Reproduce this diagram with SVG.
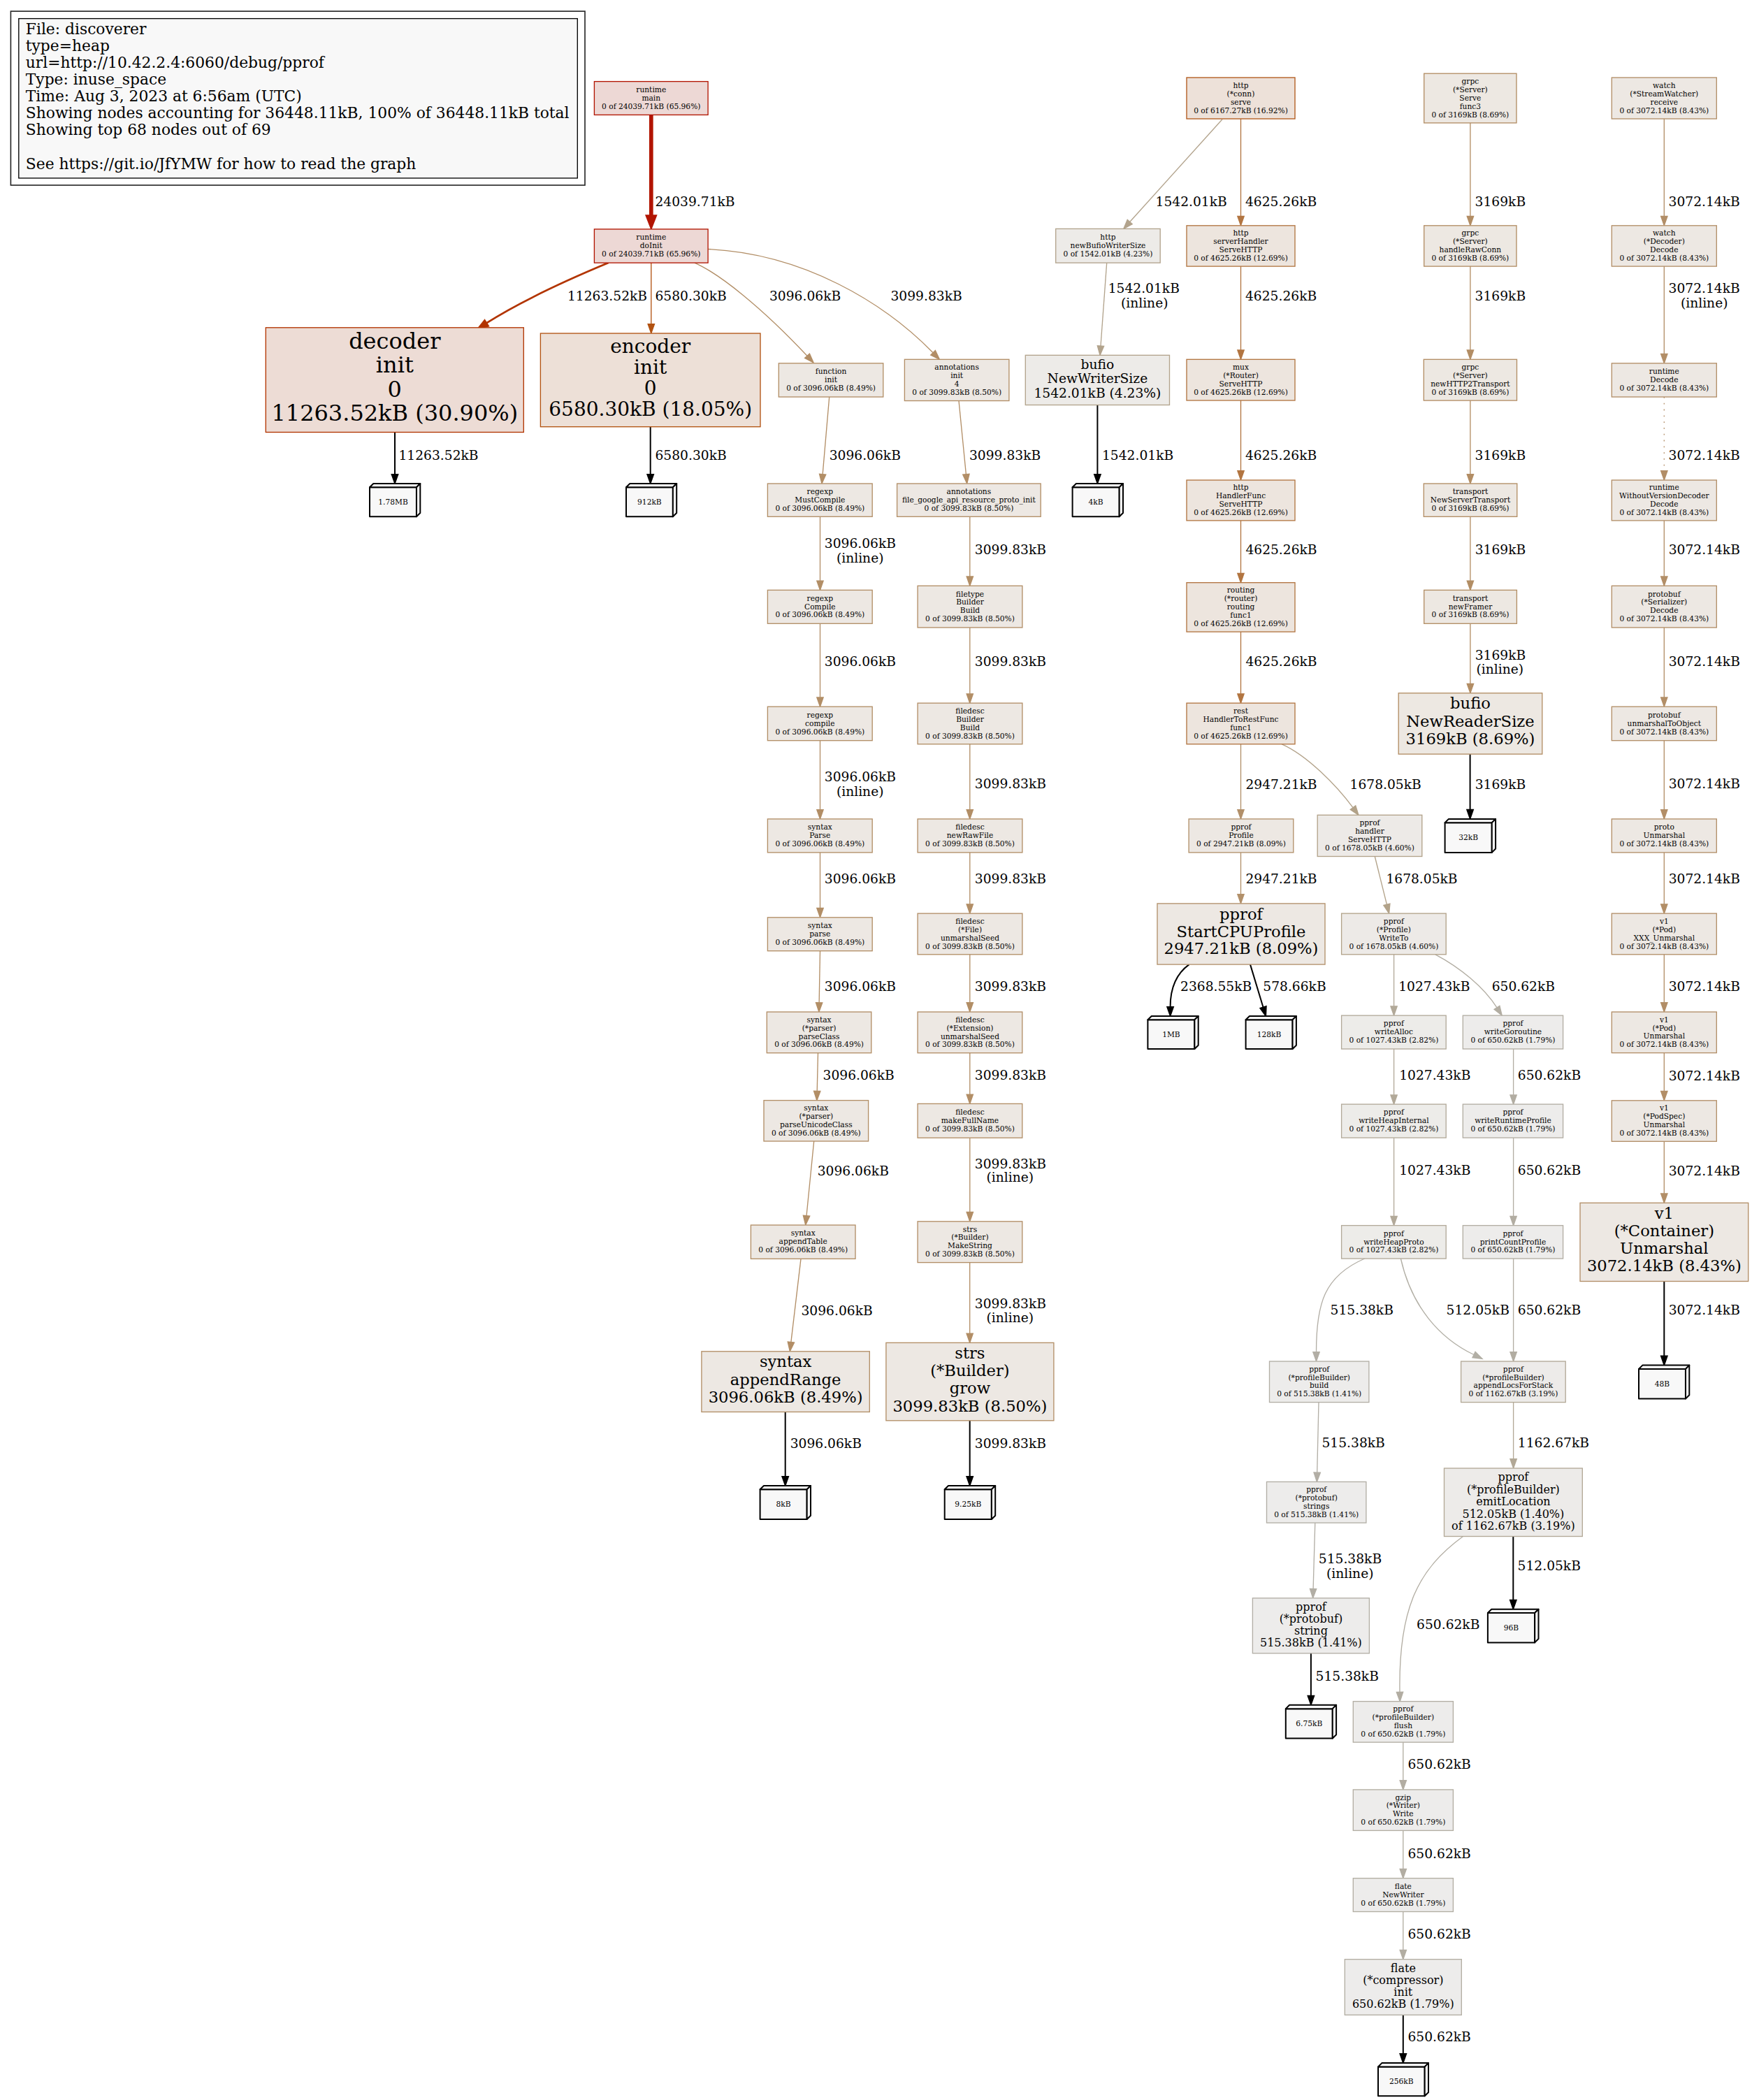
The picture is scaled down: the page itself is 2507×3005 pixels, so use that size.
<svg xmlns="http://www.w3.org/2000/svg" width="2507" height="3005" viewBox="0 0 2507 3005">
<style>
text{font-family:"DejaVu Serif","Liberation Serif",serif;fill:#000}
.n text{text-anchor:middle}
.n rect{stroke-width:1.33}
.s{font-size:10.67px}
.m{font-size:16px}
.t14{font-size:18.67px}
.t17{font-size:22.67px}
.t21{font-size:28px}
.t24{font-size:32px}
.el{font-size:18.67px}
.ei{font-size:18.67px;text-anchor:middle}
.lg{font-size:21.8px}
.e{fill:none;stroke-width:1.33}
.k{fill:none;stroke:#000;stroke-width:2}
.cube rect,.cube polygon{fill:#f8f8f8;stroke:#000;stroke-width:2;stroke-linejoin:round}
.cube text{font-size:10.67px;text-anchor:middle}
</style>
<defs>
<marker id="aT" viewBox="-3 -10 25 20" refX="0" refY="0" markerWidth="25" markerHeight="20" markerUnits="userSpaceOnUse" orient="auto"><path d="M0,-7L18,0L0,7Z" fill="#b21400" stroke="#b21400" stroke-width="2.5"/></marker>
<marker id="a1" viewBox="-2 -8 20 16" refX="0" refY="0" markerWidth="20" markerHeight="16" markerUnits="userSpaceOnUse" orient="auto"><path d="M0,-4.67L13.33,0L0,4.67Z" fill="#b23400" stroke="#b23400" stroke-width="2.67"/></marker>
<marker id="a2" viewBox="-2 -8 20 16" refX="0" refY="0" markerWidth="20" markerHeight="16" markerUnits="userSpaceOnUse" orient="auto"><path d="M0,-4.67L13.33,0L0,4.67Z" fill="#b25211" stroke="#b25211" stroke-width="1.33"/></marker>
<marker id="a3" viewBox="-2 -8 20 16" refX="0" refY="0" markerWidth="20" markerHeight="16" markerUnits="userSpaceOnUse" orient="auto"><path d="M0,-4.67L13.33,0L0,4.67Z" fill="#b28e66" stroke="#b28e66" stroke-width="1.33"/></marker>
<marker id="a4" viewBox="-2 -8 20 16" refX="0" refY="0" markerWidth="20" markerHeight="16" markerUnits="userSpaceOnUse" orient="auto"><path d="M0,-4.67L13.33,0L0,4.67Z" fill="#b2a38c" stroke="#b2a38c" stroke-width="1.33"/></marker>
<marker id="a5" viewBox="-2 -8 20 16" refX="0" refY="0" markerWidth="20" markerHeight="16" markerUnits="userSpaceOnUse" orient="auto"><path d="M0,-4.67L13.33,0L0,4.67Z" fill="#b27541" stroke="#b27541" stroke-width="1.33"/></marker>
<marker id="a6" viewBox="-2 -8 20 16" refX="0" refY="0" markerWidth="20" markerHeight="16" markerUnits="userSpaceOnUse" orient="auto"><path d="M0,-4.67L13.33,0L0,4.67Z" fill="#b28d64" stroke="#b28d64" stroke-width="1.33"/></marker>
<marker id="a7" viewBox="-2 -8 20 16" refX="0" refY="0" markerWidth="20" markerHeight="16" markerUnits="userSpaceOnUse" orient="auto"><path d="M0,-4.67L13.33,0L0,4.67Z" fill="#b28e67" stroke="#b28e67" stroke-width="1.33"/></marker>
<marker id="a8" viewBox="-2 -8 20 16" refX="0" refY="0" markerWidth="20" markerHeight="16" markerUnits="userSpaceOnUse" orient="auto"><path d="M0,-4.67L13.33,0L0,4.67Z" fill="#b2906a" stroke="#b2906a" stroke-width="1.33"/></marker>
<marker id="a9" viewBox="-2 -8 20 16" refX="0" refY="0" markerWidth="20" markerHeight="16" markerUnits="userSpaceOnUse" orient="auto"><path d="M0,-4.67L13.33,0L0,4.67Z" fill="#b2a289" stroke="#b2a289" stroke-width="1.33"/></marker>
<marker id="a10" viewBox="-2 -8 20 16" refX="0" refY="0" markerWidth="20" markerHeight="16" markerUnits="userSpaceOnUse" orient="auto"><path d="M0,-4.67L13.33,0L0,4.67Z" fill="#b2a999" stroke="#b2a999" stroke-width="1.33"/></marker>
<marker id="a11" viewBox="-2 -8 20 16" refX="0" refY="0" markerWidth="20" markerHeight="16" markerUnits="userSpaceOnUse" orient="auto"><path d="M0,-4.67L13.33,0L0,4.67Z" fill="#b2ada2" stroke="#b2ada2" stroke-width="1.33"/></marker>
<marker id="a12" viewBox="-2 -8 20 16" refX="0" refY="0" markerWidth="20" markerHeight="16" markerUnits="userSpaceOnUse" orient="auto"><path d="M0,-4.67L13.33,0L0,4.67Z" fill="#b2aea5" stroke="#b2aea5" stroke-width="1.33"/></marker>
<marker id="a13" viewBox="-2 -8 20 16" refX="0" refY="0" markerWidth="20" markerHeight="16" markerUnits="userSpaceOnUse" orient="auto"><path d="M0,-4.67L13.33,0L0,4.67Z" fill="#b2afa5" stroke="#b2afa5" stroke-width="1.33"/></marker>
<marker id="a14" viewBox="-2 -8 20 16" refX="0" refY="0" markerWidth="20" markerHeight="16" markerUnits="userSpaceOnUse" orient="auto"><path d="M0,-4.67L13.33,0L0,4.67Z" fill="#b2a896" stroke="#b2a896" stroke-width="1.33"/></marker>
<marker id="ak" viewBox="-2 -8 20 16" refX="0" refY="0" markerWidth="20" markerHeight="16" markerUnits="userSpaceOnUse" orient="auto"><path d="M0,-4.67L13.33,0L0,4.67Z" fill="#000" stroke="#000" stroke-width="1.5"/></marker>
</defs>
<rect width="2507" height="3005" fill="#fff"/>

<g id="legend">
<rect x="15.4" y="16.1" width="821.6" height="248.9" fill="none" stroke="#222" stroke-width="1.6"/>
<rect x="26.8" y="26.6" width="799.5" height="228.3" fill="#f8f8f8" stroke="#000" stroke-width="1.33"/>
<text class="lg"><tspan x="36.8" y="48.6">File: discoverer</tspan><tspan x="36.8" y="72.7">type=heap</tspan><tspan x="36.8" y="96.8">url=http://10.42.2.4:6060/debug/pprof</tspan><tspan x="36.8" y="120.9">Type: inuse_space</tspan><tspan x="36.8" y="145.0">Time: Aug 3, 2023 at 6:56am (UTC)</tspan><tspan x="36.8" y="169.2">Showing nodes accounting for 36448.11kB, 100% of 36448.11kB total</tspan><tspan x="36.8" y="193.3">Showing top 68 nodes out of 69</tspan><tspan x="36.8" y="241.5">See https://git.io/JfYMW for how to read the graph</tspan></text>
</g>

<g id="edges">
<path class="e" d="M931.8,164.4V308.5" stroke="#b21400" style="stroke-width:5.7" marker-end="url(#aT)"/>
<text class="el" x="937.5" y="294.8">24039.71kB</text>
<path class="e" d="M870.6,376.1C830,393 750,428 696,462.4" stroke="#b23400" style="stroke-width:2.67" marker-end="url(#a1)"/>
<text class="el" x="812" y="429.5">11263.52kB</text>
<path class="e" d="M931.8,376.1V463.7" stroke="#b25211" marker-end="url(#a2)"/>
<text class="el" x="937.5" y="429.5">6580.30kB</text>
<path class="e" d="M994,376.1C1030,392 1090,440 1155,509.2" stroke="#b28e66" marker-end="url(#a3)"/>
<text class="el" x="1101" y="429.5">3096.06kB</text>
<path class="e" d="M1013.1,356.5C1150,363 1265.3,433.2 1335.1,504.75" stroke="#b28e66" marker-end="url(#a3)"/>
<text class="el" x="1274.5" y="429.5">3099.83kB</text>
<path class="e" d="M1749,170.8L1616.7,317.5" stroke="#b2a38c" marker-end="url(#a4)"/>
<text class="el" x="1653.6" y="294.8">1542.01kB</text>
<path class="e" d="M1775.5,170V309.5" stroke="#b27541" marker-end="url(#a5)"/>
<text class="el" x="1782" y="294.8">4625.26kB</text>
<path class="e" d="M2103.9,175.9V309.5" stroke="#b28d64" marker-end="url(#a6)"/>
<text class="el" x="2110.6" y="294.8">3169kB</text>
<path class="e" d="M2381.3,170V309.5" stroke="#b28e67" marker-end="url(#a7)"/>
<text class="el" x="2387.6" y="294.8">3072.14kB</text>
<path class="e" d="M1583.7,376.1L1575,495" stroke="#b2a38c" marker-end="url(#a4)"/>
<text class="el" x="1585.7" y="419">1542.01kB</text><text class="ei" x="1637.7" y="440">(inline)</text>
<path class="e" d="M1775.5,381.1V501" stroke="#b27541" marker-end="url(#a5)"/>
<text class="el" x="1782" y="429.5">4625.26kB</text>
<path class="e" d="M2103.9,381.1V501" stroke="#b28d64" marker-end="url(#a6)"/>
<text class="el" x="2110.6" y="429.5">3169kB</text>
<path class="e" d="M2381.3,381.1V506.5" stroke="#b28e67" marker-end="url(#a7)"/>
<text class="el" x="2387.6" y="419">3072.14kB</text><text class="ei" x="2438.7" y="440">(inline)</text>
<path class="e" d="M1186.7,568L1177.15,678.7" stroke="#b28e66" marker-end="url(#a3)"/>
<text class="el" x="1186.7" y="657.6">3096.06kB</text>
<path class="e" d="M1372,573.5L1382.4,678.7" stroke="#b28e66" marker-end="url(#a3)"/>
<text class="el" x="1387" y="657.6">3099.83kB</text>
<path class="k" d="M1570.4,579.5V678.7" marker-end="url(#ak)"/>
<text class="el" x="1577" y="657.6">1542.01kB</text>
<path class="e" d="M1775.5,573V673.7" stroke="#b27541" marker-end="url(#a5)"/>
<text class="el" x="1782" y="657.6">4625.26kB</text>
<path class="e" d="M2103.9,573.1V678.7" stroke="#b28d64" marker-end="url(#a6)"/>
<text class="el" x="2110.6" y="657.6">3169kB</text>
<path class="e" d="M2381.3,568V673.7" stroke="#b28e67" stroke-dasharray="1.8,7" marker-end="url(#a7)"/>
<text class="el" x="2387.6" y="657.6">3072.14kB</text>
<path class="k" d="M565,618.5V678.7" marker-end="url(#ak)"/>
<text class="el" x="570.5" y="657.6">11263.52kB</text>
<path class="k" d="M930.7,610.7V678.7" marker-end="url(#ak)"/>
<text class="el" x="937.5" y="657.6">6580.30kB</text>
<path class="e" d="M1173.5,739.3V831.1" stroke="#b28e66" marker-end="url(#a3)"/>
<text class="el" x="1179.8" y="784.2">3096.06kB</text><text class="ei" x="1230.7" y="804.6">(inline)</text>
<path class="e" d="M1387.8,739.3V825" stroke="#b28e66" marker-end="url(#a3)"/>
<text class="el" x="1394.8" y="793.4">3099.83kB</text>
<path class="e" d="M1775.5,744.9V820.4" stroke="#b27541" marker-end="url(#a5)"/>
<text class="el" x="1782.4" y="793.4">4625.26kB</text>
<path class="e" d="M2103.9,739.3V831.1" stroke="#b28d64" marker-end="url(#a6)"/>
<text class="el" x="2110.7" y="793.4">3169kB</text>
<path class="e" d="M2381.3,744.9V825" stroke="#b28e67" marker-end="url(#a7)"/>
<text class="el" x="2387.7" y="793.4">3072.14kB</text>
<path class="e" d="M1173.5,892.3V997.9" stroke="#b28e66" marker-end="url(#a3)"/>
<text class="el" x="1179.8" y="952.6">3096.06kB</text>
<path class="e" d="M1387.8,898V992.8" stroke="#b28e66" marker-end="url(#a3)"/>
<text class="el" x="1394.8" y="952.6">3099.83kB</text>
<path class="e" d="M1775.5,904.1V992.8" stroke="#b27541" marker-end="url(#a5)"/>
<text class="el" x="1782.4" y="952.6">4625.26kB</text>
<path class="e" d="M2103.9,892.3V978.5" stroke="#b28d64" marker-end="url(#a6)"/>
<text class="el" x="2110.7" y="943.9">3169kB</text><text class="ei" x="2146.3" y="964.3">(inline)</text>
<path class="e" d="M2381.3,898V997.9" stroke="#b28e67" marker-end="url(#a7)"/>
<text class="el" x="2387.7" y="952.6">3072.14kB</text>
<path class="e" d="M1173.5,1059.7V1158.6" stroke="#b28e66" marker-end="url(#a3)"/>
<text class="el" x="1179.8" y="1118.4">3096.06kB</text><text class="ei" x="1230.7" y="1138.8">(inline)</text>
<path class="e" d="M1387.8,1064.8V1158.6" stroke="#b28e66" marker-end="url(#a3)"/>
<text class="el" x="1394.8" y="1127.6">3099.83kB</text>
<path class="e" d="M1775.5,1064.8V1158.6" stroke="#b2906a" marker-end="url(#a8)"/>
<text class="el" x="1782.4" y="1128.6">2947.21kB</text>
<path class="e" d="M1834.2,1064.8C1870.7,1081.1 1912.1,1123.5 1936,1155.6" stroke="#b2a289" marker-end="url(#a9)"/>
<text class="el" x="1931.6" y="1128.6">1678.05kB</text>
<path class="k" d="M2103.6,1079.1V1158.6" marker-end="url(#ak)"/>
<text class="el" x="2110.7" y="1128.6">3169kB</text>
<path class="e" d="M2381.3,1059.7V1158.6" stroke="#b28e67" marker-end="url(#a7)"/>
<text class="el" x="2387.7" y="1127.6">3072.14kB</text>
<path class="e" d="M1173.5,1219.9V1299.5" stroke="#b28e66" marker-end="url(#a3)"/>
<text class="el" x="1179.8" y="1263.8">3096.06kB</text>
<path class="e" d="M1387.8,1219.9V1293.8" stroke="#b28e66" marker-end="url(#a3)"/>
<text class="el" x="1394.8" y="1263.8">3099.83kB</text>
<path class="e" d="M1775.5,1219.9V1279.6" stroke="#b2906a" marker-end="url(#a8)"/>
<text class="el" x="1782.4" y="1263.8">2947.21kB</text>
<path class="e" d="M1967.3,1225.5L1984.4,1294.2" stroke="#b2a289" marker-end="url(#a9)"/>
<text class="el" x="1983.4" y="1263.8">1678.05kB</text>
<path class="e" d="M2381.3,1219.9V1293.8" stroke="#b28e67" marker-end="url(#a7)"/>
<text class="el" x="2387.7" y="1263.8">3072.14kB</text>
<path class="e" d="M1173.5,1360.7L1172.15,1434.7" stroke="#b28e66" marker-end="url(#a3)"/>
<text class="el" x="1179.8" y="1418.4">3096.06kB</text>
<path class="e" d="M1387.8,1365.8V1434.7" stroke="#b28e66" marker-end="url(#a3)"/>
<text class="el" x="1394.8" y="1418.4">3099.83kB</text>
<path class="k" d="M1701.6,1380.1C1685,1392 1674.6,1410 1674.6,1440.7" marker-end="url(#ak)"/>
<text class="el" x="1689.1" y="1418.4">2368.55kB</text>
<path class="k" d="M1789,1380.1L1807.5,1441.2" marker-end="url(#ak)"/>
<text class="el" x="1807.3" y="1418.4">578.66kB</text>
<path class="e" d="M1994.6,1365.8V1439.8" stroke="#b2a999" marker-end="url(#a10)"/>
<text class="el" x="2001.2" y="1418.4">1027.43kB</text>
<path class="e" d="M2053.9,1365.8C2089.3,1384.5 2123.1,1412.4 2142,1441.9" stroke="#b2ada2" marker-end="url(#a11)"/>
<text class="el" x="2134.7" y="1418.4">650.62kB</text>
<path class="e" d="M2381.3,1365.8V1434.7" stroke="#b28e67" marker-end="url(#a7)"/>
<text class="el" x="2387.7" y="1418.4">3072.14kB</text>
<path class="e" d="M1170.5,1506.7L1169.2,1561.3" stroke="#b28e66" marker-end="url(#a3)"/>
<text class="el" x="1177.6" y="1545.4">3096.06kB</text>
<path class="e" d="M1387.8,1506.7V1566.1" stroke="#b28e66" marker-end="url(#a3)"/>
<text class="el" x="1394.8" y="1545.4">3099.83kB</text>
<path class="e" d="M1994.6,1501V1566.8" stroke="#b2a999" marker-end="url(#a10)"/>
<text class="el" x="2002.2" y="1545.4">1027.43kB</text>
<path class="e" d="M2165.6,1501V1566.8" stroke="#b2ada2" marker-end="url(#a11)"/>
<text class="el" x="2171.8" y="1545.4">650.62kB</text>
<path class="e" d="M2381.3,1506.6V1561.5" stroke="#b28e67" marker-end="url(#a7)"/>
<text class="el" x="2387.7" y="1545.7">3072.14kB</text>
<path class="e" d="M1164.7,1633L1154.03,1739.7" stroke="#b28e66" marker-end="url(#a3)"/>
<text class="el" x="1169.7" y="1681.8">3096.06kB</text>
<path class="e" d="M1387.8,1628.2V1734.5" stroke="#b28e66" marker-end="url(#a3)"/>
<text class="el" x="1394.8" y="1672.2">3099.83kB</text><text class="ei" x="1445.3" y="1691.3">(inline)</text>
<path class="e" d="M1994.6,1628.1V1740.3" stroke="#b2a999" marker-end="url(#a10)"/>
<text class="el" x="2002.2" y="1681.1">1027.43kB</text>
<path class="e" d="M2165.6,1628.1V1740.3" stroke="#b2ada2" marker-end="url(#a11)"/>
<text class="el" x="2171.8" y="1681.1">650.62kB</text>
<path class="e" d="M2381.3,1633.3V1708" stroke="#b28e67" marker-end="url(#a7)"/>
<text class="el" x="2387.7" y="1681.5">3072.14kB</text>
<path class="e" d="M1146,1801.3L1131.87,1920.56" stroke="#b28e66" marker-end="url(#a3)"/>
<text class="el" x="1146.5" y="1881.7">3096.06kB</text>
<path class="e" d="M1387.7,1806.6V1908.1" stroke="#b28e66" marker-end="url(#a3)"/>
<text class="el" x="1394.8" y="1872">3099.83kB</text><text class="ei" x="1445.3" y="1892.2">(inline)</text>
<path class="e" d="M1952.7,1801C1895,1826 1883.5,1865 1883.5,1934.7" stroke="#b2aea5" marker-end="url(#a12)"/>
<text class="el" x="1903.6" y="1881.1">515.38kB</text>
<path class="e" d="M2004.4,1801C2020,1870 2060,1915 2109,1938.5" stroke="#b2afa5" marker-end="url(#a13)"/>
<text class="el" x="2069.6" y="1881.1">512.05kB</text>
<path class="e" d="M2165.6,1801V1934.7" stroke="#b2ada2" marker-end="url(#a11)"/>
<text class="el" x="2171.8" y="1881.1">650.62kB</text>
<path class="k" d="M2381.3,1833.5V1940.3" marker-end="url(#ak)"/>
<text class="el" x="2387.7" y="1881.3">3072.14kB</text>
<path class="e" d="M1887,2006.6L1884.7,2107.1" stroke="#b2aea5" marker-end="url(#a12)"/>
<text class="el" x="1891.5" y="2071.4">515.38kB</text>
<path class="e" d="M2165.6,2006.6V2087.7" stroke="#b2a896" marker-end="url(#a14)"/>
<text class="el" x="2171.8" y="2071.4">1162.67kB</text>
<path class="k" d="M1123.7,2020.4V2112.7" marker-end="url(#ak)"/>
<text class="el" x="1130.7" y="2071.6">3096.06kB</text>
<path class="k" d="M1387.7,2032.8V2112.7" marker-end="url(#ak)"/>
<text class="el" x="1394.8" y="2071.6">3099.83kB</text>
<path class="e" d="M1881.8,2179.1L1879.1,2273.5" stroke="#b2aea5" marker-end="url(#a12)"/>
<text class="el" x="1886.8" y="2237">515.38kB</text><text class="ei" x="1931.7" y="2257.5">(inline)</text>
<path class="k" d="M2165.3,2198.5V2289.4" marker-end="url(#ak)"/>
<text class="el" x="2171.6" y="2247.2">512.05kB</text>
<path class="e" d="M2093.5,2198.5C2030,2245 2001,2300 2003,2421.3" stroke="#b2ada2" marker-end="url(#a11)"/>
<text class="el" x="2027.1" y="2330.9">650.62kB</text>
<path class="k" d="M1875.9,2365.8V2426.5" marker-end="url(#ak)"/>
<text class="el" x="1882.6" y="2405.4">515.38kB</text>
<path class="e" d="M2007.8,2493.1V2547.6" stroke="#b2ada2" marker-end="url(#a11)"/>
<text class="el" x="2014.5" y="2531.1">650.62kB</text>
<path class="e" d="M2007.8,2619.4V2674.4" stroke="#b2ada2" marker-end="url(#a11)"/>
<text class="el" x="2014.5" y="2658.5">650.62kB</text>
<path class="e" d="M2007.8,2735.5V2790.4" stroke="#b2ada2" marker-end="url(#a11)"/>
<text class="el" x="2014.5" y="2774">650.62kB</text>
<path class="k" d="M2007.8,2883.3V2938.8" marker-end="url(#ak)"/>
<text class="el" x="2014.5" y="2921.3">650.62kB</text>
</g>

<g id="nodes">
<g id="n-runtime-main" class="n"><rect x="850.4" y="116.6" width="162.7" height="47.8" fill="#edd8d5" stroke="#b21400"/><text class="s"><tspan x="931.75" y="131.8">runtime</tspan><tspan x="931.75" y="143.7">main</tspan><tspan x="931.75" y="155.6">0 of 24039.71kB (65.96%)</tspan></text></g>
<g id="n-runtime-doInit" class="n"><rect x="850.4" y="327.9" width="162.7" height="48.2" fill="#edd8d5" stroke="#b21400"/><text class="s"><tspan x="931.75" y="343.3">runtime</tspan><tspan x="931.75" y="355.2">doInit</tspan><tspan x="931.75" y="367.1">0 of 24039.71kB (65.96%)</tspan></text></g>
<g id="n-decoder-init" class="n"><rect x="380.3" y="468.8" width="369" height="149.7" fill="#eddcd5" stroke="#b23400"/><text class="t24"><tspan x="564.8" y="498.6">decoder</tspan><tspan x="564.8" y="533.1">init</tspan><tspan x="564.8" y="567.6">0</tspan><tspan x="564.8" y="602">11263.52kB (30.90%)</tspan></text></g>
<g id="n-encoder-init" class="n"><rect x="773.4" y="477" width="314.6" height="133.7" fill="#ede0d7" stroke="#b25211"/><text class="t21"><tspan x="930.7" y="504.5">encoder</tspan><tspan x="930.7" y="534.8">init</tspan><tspan x="930.7" y="565.1">0</tspan><tspan x="930.7" y="595.4">6580.30kB (18.05%)</tspan></text></g>
<g id="n-function-init" class="n"><rect x="1114.3" y="519.8" width="149.5" height="48.2" fill="#ede8e3" stroke="#b28e66"/><text class="s"><tspan x="1189.05" y="535.2">function</tspan><tspan x="1189.05" y="547.1">init</tspan><tspan x="1189.05" y="559">0 of 3096.06kB (8.49%)</tspan></text></g>
<g id="n-annotations-init" class="n"><rect x="1294.4" y="514.3" width="149.5" height="59.2" fill="#ede8e3" stroke="#b28e66"/><text class="s"><tspan x="1369.15" y="529.25">annotations</tspan><tspan x="1369.15" y="541.15">init</tspan><tspan x="1369.15" y="553.05">4</tspan><tspan x="1369.15" y="564.95">0 of 3099.83kB (8.50%)</tspan></text></g>
<g id="n-http-conn-serve" class="n"><rect x="1698" y="111" width="155" height="59" fill="#ede1d9" stroke="#b2591b"/><text class="s"><tspan x="1775.5" y="125.85">http</tspan><tspan x="1775.5" y="137.75">(*conn)</tspan><tspan x="1775.5" y="149.65">serve</tspan><tspan x="1775.5" y="161.55">0 of 6167.27kB (16.92%)</tspan></text></g>
<g id="n-http-newBufioWriterSize" class="n"><rect x="1510.7" y="327.4" width="149.5" height="48.7" fill="#edebe8" stroke="#b2a38c"/><text class="s"><tspan x="1585.45" y="343.05">http</tspan><tspan x="1585.45" y="354.95">newBufioWriterSize</tspan><tspan x="1585.45" y="366.85">0 of 1542.01kB (4.23%)</tspan></text></g>
<g id="n-http-serverHandler" class="n"><rect x="1698" y="322.8" width="155" height="58.3" fill="#ede5de" stroke="#b27541"/><text class="s"><tspan x="1775.5" y="337.3">http</tspan><tspan x="1775.5" y="349.2">serverHandler</tspan><tspan x="1775.5" y="361.1">ServeHTTP</tspan><tspan x="1775.5" y="373">0 of 4625.26kB (12.69%)</tspan></text></g>
<g id="n-bufio-NewWriterSize" class="n"><rect x="1467.3" y="508.3" width="206.2" height="71.2" fill="#edebe8" stroke="#b2a38c"/><text class="t14"><tspan x="1570.4" y="528.3">bufio</tspan><tspan x="1570.4" y="548.4">NewWriterSize</tspan><tspan x="1570.4" y="568.5">1542.01kB (4.23%)</tspan></text></g>
<g id="n-mux-ServeHTTP" class="n"><rect x="1698" y="514.3" width="155" height="58.7" fill="#ede5de" stroke="#b27541"/><text class="s"><tspan x="1775.5" y="529">mux</tspan><tspan x="1775.5" y="540.9">(*Router)</tspan><tspan x="1775.5" y="552.8">ServeHTTP</tspan><tspan x="1775.5" y="564.7">0 of 4625.26kB (12.69%)</tspan></text></g>
<g id="n-grpc-Serve-func3" class="n"><rect x="2037.7" y="105.2" width="132.3" height="70.7" fill="#ede8e2" stroke="#b28d64"/><text class="s"><tspan x="2103.85" y="119.95">grpc</tspan><tspan x="2103.85" y="131.85">(*Server)</tspan><tspan x="2103.85" y="143.75">Serve</tspan><tspan x="2103.85" y="155.65">func3</tspan><tspan x="2103.85" y="167.55">0 of 3169kB (8.69%)</tspan></text></g>
<g id="n-grpc-handleRawConn" class="n"><rect x="2037.7" y="322.8" width="132.3" height="58.3" fill="#ede8e2" stroke="#b28d64"/><text class="s"><tspan x="2103.85" y="337.3">grpc</tspan><tspan x="2103.85" y="349.2">(*Server)</tspan><tspan x="2103.85" y="361.1">handleRawConn</tspan><tspan x="2103.85" y="373">0 of 3169kB (8.69%)</tspan></text></g>
<g id="n-grpc-newHTTP2Transport" class="n"><rect x="2037.3" y="514.3" width="133.2" height="58.8" fill="#ede8e2" stroke="#b28d64"/><text class="s"><tspan x="2103.9" y="529.05">grpc</tspan><tspan x="2103.9" y="540.95">(*Server)</tspan><tspan x="2103.9" y="552.85">newHTTP2Transport</tspan><tspan x="2103.9" y="564.75">0 of 3169kB (8.69%)</tspan></text></g>
<g id="n-transport-NewServerTransport" class="n"><rect x="2037.3" y="692" width="133.5" height="47.3" fill="#ede8e2" stroke="#b28d64"/><text class="s"><tspan x="2104" y="706.95">transport</tspan><tspan x="2104" y="718.85">NewServerTransport</tspan><tspan x="2104" y="730.75">0 of 3169kB (8.69%)</tspan></text></g>
<g id="n-watch-receive" class="n"><rect x="2306.3" y="111" width="150" height="59" fill="#ede8e3" stroke="#b28e67"/><text class="s"><tspan x="2381.3" y="125.85">watch</tspan><tspan x="2381.3" y="137.75">(*StreamWatcher)</tspan><tspan x="2381.3" y="149.65">receive</tspan><tspan x="2381.3" y="161.55">0 of 3072.14kB (8.43%)</tspan></text></g>
<g id="n-watch-Decode" class="n"><rect x="2306.3" y="322.8" width="150" height="58.3" fill="#ede8e3" stroke="#b28e67"/><text class="s"><tspan x="2381.3" y="337.3">watch</tspan><tspan x="2381.3" y="349.2">(*Decoder)</tspan><tspan x="2381.3" y="361.1">Decode</tspan><tspan x="2381.3" y="373">0 of 3072.14kB (8.43%)</tspan></text></g>
<g id="n-runtime-Decode" class="n"><rect x="2306.3" y="519.8" width="150" height="48.2" fill="#ede8e3" stroke="#b28e67"/><text class="s"><tspan x="2381.3" y="535.2">runtime</tspan><tspan x="2381.3" y="547.1">Decode</tspan><tspan x="2381.3" y="559">0 of 3072.14kB (8.43%)</tspan></text></g>
<g id="n-runtime-WithoutVersionDecoder" class="n"><rect x="2306.3" y="687" width="150" height="57.9" fill="#ede8e3" stroke="#b28e67"/><text class="s"><tspan x="2381.3" y="701.3">runtime</tspan><tspan x="2381.3" y="713.2">WithoutVersionDecoder</tspan><tspan x="2381.3" y="725.1">Decode</tspan><tspan x="2381.3" y="737">0 of 3072.14kB (8.43%)</tspan></text></g>
<g id="n-regexp-MustCompile" class="n"><rect x="1098.4" y="692" width="149.8" height="47.3" fill="#ede8e3" stroke="#b28e66"/><text class="s"><tspan x="1173.3" y="706.95">regexp</tspan><tspan x="1173.3" y="718.85">MustCompile</tspan><tspan x="1173.3" y="730.75">0 of 3096.06kB (8.49%)</tspan></text></g>
<g id="n-annotations-file" class="n"><rect x="1283.6" y="692" width="205.6" height="47.3" fill="#ede8e3" stroke="#b28e66"/><text class="s"><tspan x="1386.4" y="706.95">annotations</tspan><tspan x="1386.4" y="718.85">file_google_api_resource_proto_init</tspan><tspan x="1386.4" y="730.75">0 of 3099.83kB (8.50%)</tspan></text></g>
<g id="n-http-HandlerFunc" class="n"><rect x="1698" y="687" width="155" height="57.9" fill="#ede5de" stroke="#b27541"/><text class="s"><tspan x="1775.5" y="701.3">http</tspan><tspan x="1775.5" y="713.2">HandlerFunc</tspan><tspan x="1775.5" y="725.1">ServeHTTP</tspan><tspan x="1775.5" y="737">0 of 4625.26kB (12.69%)</tspan></text></g>
<g id="n-regexp-Compile" class="n"><rect x="1098.4" y="844.4" width="149.8" height="47.9" fill="#ede8e3" stroke="#b28e66"/><text class="s"><tspan x="1173.3" y="859.65">regexp</tspan><tspan x="1173.3" y="871.55">Compile</tspan><tspan x="1173.3" y="883.45">0 of 3096.06kB (8.49%)</tspan></text></g>
<g id="n-filetype-Build" class="n"><rect x="1313.1" y="838.3" width="149.8" height="59.7" fill="#ede8e3" stroke="#b28e66"/><text class="s"><tspan x="1388" y="853.5">filetype</tspan><tspan x="1388" y="865.4">Builder</tspan><tspan x="1388" y="877.3">Build</tspan><tspan x="1388" y="889.2">0 of 3099.83kB (8.50%)</tspan></text></g>
<g id="n-routing-func1" class="n"><rect x="1698" y="833.7" width="155" height="70.4" fill="#ede5de" stroke="#b27541"/><text class="s"><tspan x="1775.5" y="848.3">routing</tspan><tspan x="1775.5" y="860.2">(*router)</tspan><tspan x="1775.5" y="872.1">routing</tspan><tspan x="1775.5" y="884">func1</tspan><tspan x="1775.5" y="895.9">0 of 4625.26kB (12.69%)</tspan></text></g>
<g id="n-transport-newFramer" class="n"><rect x="2037.7" y="844.4" width="132.7" height="47.9" fill="#ede8e2" stroke="#b28d64"/><text class="s"><tspan x="2104" y="859.65">transport</tspan><tspan x="2104" y="871.55">newFramer</tspan><tspan x="2104" y="883.45">0 of 3169kB (8.69%)</tspan></text></g>
<g id="n-protobuf-Serializer-Decode" class="n"><rect x="2306.3" y="838.3" width="150" height="59.7" fill="#ede8e3" stroke="#b28e67"/><text class="s"><tspan x="2381.3" y="853.5">protobuf</tspan><tspan x="2381.3" y="865.4">(*Serializer)</tspan><tspan x="2381.3" y="877.3">Decode</tspan><tspan x="2381.3" y="889.2">0 of 3072.14kB (8.43%)</tspan></text></g>
<g id="n-regexp-compile" class="n"><rect x="1098.4" y="1011.2" width="149.8" height="48.5" fill="#ede8e3" stroke="#b28e66"/><text class="s"><tspan x="1173.3" y="1026.75">regexp</tspan><tspan x="1173.3" y="1038.65">compile</tspan><tspan x="1173.3" y="1050.55">0 of 3096.06kB (8.49%)</tspan></text></g>
<g id="n-filedesc-Build" class="n"><rect x="1313.1" y="1006.1" width="149.8" height="58.7" fill="#ede8e3" stroke="#b28e66"/><text class="s"><tspan x="1388" y="1020.8">filedesc</tspan><tspan x="1388" y="1032.7">Builder</tspan><tspan x="1388" y="1044.6">Build</tspan><tspan x="1388" y="1056.5">0 of 3099.83kB (8.50%)</tspan></text></g>
<g id="n-rest-HandlerToRestFunc" class="n"><rect x="1698" y="1006.1" width="155" height="58.7" fill="#ede5de" stroke="#b27541"/><text class="s"><tspan x="1775.5" y="1020.8">rest</tspan><tspan x="1775.5" y="1032.7">HandlerToRestFunc</tspan><tspan x="1775.5" y="1044.6">func1</tspan><tspan x="1775.5" y="1056.5">0 of 4625.26kB (12.69%)</tspan></text></g>
<g id="n-bufio-NewReaderSize" class="n"><rect x="2001.2" y="991.8" width="205.6" height="87.3" fill="#ede8e2" stroke="#b28d64"/><text class="t17"><tspan x="2104" y="1014">bufio</tspan><tspan x="2104" y="1039.5">NewReaderSize</tspan><tspan x="2104" y="1065">3169kB (8.69%)</tspan></text></g>
<g id="n-protobuf-unmarshalToObject" class="n"><rect x="2306.3" y="1011.2" width="150" height="48.5" fill="#ede8e3" stroke="#b28e67"/><text class="s"><tspan x="2381.3" y="1026.75">protobuf</tspan><tspan x="2381.3" y="1038.65">unmarshalToObject</tspan><tspan x="2381.3" y="1050.55">0 of 3072.14kB (8.43%)</tspan></text></g>
<g id="n-syntax-Parse" class="n"><rect x="1098.4" y="1171.9" width="149.8" height="48" fill="#ede8e3" stroke="#b28e66"/><text class="s"><tspan x="1173.3" y="1187.2">syntax</tspan><tspan x="1173.3" y="1199.1">Parse</tspan><tspan x="1173.3" y="1211">0 of 3096.06kB (8.49%)</tspan></text></g>
<g id="n-filedesc-newRawFile" class="n"><rect x="1313.1" y="1171.9" width="149.8" height="48" fill="#ede8e3" stroke="#b28e66"/><text class="s"><tspan x="1388" y="1187.2">filedesc</tspan><tspan x="1388" y="1199.1">newRawFile</tspan><tspan x="1388" y="1211">0 of 3099.83kB (8.50%)</tspan></text></g>
<g id="n-pprof-Profile" class="n"><rect x="1701.1" y="1171.9" width="149.7" height="48" fill="#ede8e3" stroke="#b2906a"/><text class="s"><tspan x="1775.95" y="1187.2">pprof</tspan><tspan x="1775.95" y="1199.1">Profile</tspan><tspan x="1775.95" y="1211">0 of 2947.21kB (8.09%)</tspan></text></g>
<g id="n-pprof-handler" class="n"><rect x="1885.2" y="1166.3" width="149.6" height="59.2" fill="#edeae7" stroke="#b2a289"/><text class="s"><tspan x="1960" y="1181.25">pprof</tspan><tspan x="1960" y="1193.15">handler</tspan><tspan x="1960" y="1205.05">ServeHTTP</tspan><tspan x="1960" y="1216.95">0 of 1678.05kB (4.60%)</tspan></text></g>
<g id="n-proto-Unmarshal" class="n"><rect x="2306.3" y="1171.9" width="150" height="48" fill="#ede8e3" stroke="#b28e67"/><text class="s"><tspan x="2381.3" y="1187.2">proto</tspan><tspan x="2381.3" y="1199.1">Unmarshal</tspan><tspan x="2381.3" y="1211">0 of 3072.14kB (8.43%)</tspan></text></g>
<g id="n-syntax-parse" class="n"><rect x="1098.4" y="1312.8" width="149.8" height="47.9" fill="#ede8e3" stroke="#b28e66"/><text class="s"><tspan x="1173.3" y="1328.05">syntax</tspan><tspan x="1173.3" y="1339.95">parse</tspan><tspan x="1173.3" y="1351.85">0 of 3096.06kB (8.49%)</tspan></text></g>
<g id="n-filedesc-File-unmarshalSeed" class="n"><rect x="1313.1" y="1307.1" width="149.8" height="58.7" fill="#ede8e3" stroke="#b28e66"/><text class="s"><tspan x="1388" y="1321.8">filedesc</tspan><tspan x="1388" y="1333.7">(*File)</tspan><tspan x="1388" y="1345.6">unmarshalSeed</tspan><tspan x="1388" y="1357.5">0 of 3099.83kB (8.50%)</tspan></text></g>
<g id="n-pprof-StartCPUProfile" class="n"><rect x="1656" y="1292.9" width="240" height="87.2" fill="#ede8e3" stroke="#b2906a"/><text class="t17"><tspan x="1776" y="1315.5">pprof</tspan><tspan x="1776" y="1340.5">StartCPUProfile</tspan><tspan x="1776" y="1365">2947.21kB (8.09%)</tspan></text></g>
<g id="n-pprof-WriteTo" class="n"><rect x="1919.6" y="1307.1" width="149.6" height="58.7" fill="#edeae7" stroke="#b2a289"/><text class="s"><tspan x="1994.4" y="1321.8">pprof</tspan><tspan x="1994.4" y="1333.7">(*Profile)</tspan><tspan x="1994.4" y="1345.6">WriteTo</tspan><tspan x="1994.4" y="1357.5">0 of 1678.05kB (4.60%)</tspan></text></g>
<g id="n-v1-Pod-XXX_Unmarshal" class="n"><rect x="2306.3" y="1307.1" width="150" height="58.7" fill="#ede8e3" stroke="#b28e67"/><text class="s"><tspan x="2381.3" y="1321.8">v1</tspan><tspan x="2381.3" y="1333.7">(*Pod)</tspan><tspan x="2381.3" y="1345.6">XXX_Unmarshal</tspan><tspan x="2381.3" y="1357.5">0 of 3072.14kB (8.43%)</tspan></text></g>
<g id="n-syntax-parseClass" class="n"><rect x="1097.3" y="1448" width="149.5" height="58.7" fill="#ede8e3" stroke="#b28e66"/><text class="s"><tspan x="1172.05" y="1462.7">syntax</tspan><tspan x="1172.05" y="1474.6">(*parser)</tspan><tspan x="1172.05" y="1486.5">parseClass</tspan><tspan x="1172.05" y="1498.4">0 of 3096.06kB (8.49%)</tspan></text></g>
<g id="n-filedesc-Extension-unmarshalSeed" class="n"><rect x="1313.1" y="1448" width="149.7" height="58.7" fill="#ede8e3" stroke="#b28e66"/><text class="s"><tspan x="1387.95" y="1462.7">filedesc</tspan><tspan x="1387.95" y="1474.6">(*Extension)</tspan><tspan x="1387.95" y="1486.5">unmarshalSeed</tspan><tspan x="1387.95" y="1498.4">0 of 3099.83kB (8.50%)</tspan></text></g>
<g id="n-pprof-writeAlloc" class="n"><rect x="1919.6" y="1453.1" width="149.6" height="47.9" fill="#edece9" stroke="#b2a999"/><text class="s"><tspan x="1994.4" y="1468.35">pprof</tspan><tspan x="1994.4" y="1480.25">writeAlloc</tspan><tspan x="1994.4" y="1492.15">0 of 1027.43kB (2.82%)</tspan></text></g>
<g id="n-pprof-writeGoroutine" class="n"><rect x="2093.3" y="1453.1" width="143.3" height="47.9" fill="#edeceb" stroke="#b2ada2"/><text class="s"><tspan x="2164.95" y="1468.35">pprof</tspan><tspan x="2164.95" y="1480.25">writeGoroutine</tspan><tspan x="2164.95" y="1492.15">0 of 650.62kB (1.79%)</tspan></text></g>
<g id="n-v1-Pod-Unmarshal" class="n"><rect x="2306.3" y="1448" width="150" height="58.6" fill="#ede8e3" stroke="#b28e67"/><text class="s"><tspan x="2381.3" y="1462.65">v1</tspan><tspan x="2381.3" y="1474.55">(*Pod)</tspan><tspan x="2381.3" y="1486.45">Unmarshal</tspan><tspan x="2381.3" y="1498.35">0 of 3072.14kB (8.43%)</tspan></text></g>
<g id="n-syntax-parseUnicodeClass" class="n"><rect x="1093" y="1574.6" width="149.6" height="58.4" fill="#ede8e3" stroke="#b28e66"/><text class="s"><tspan x="1167.8" y="1589.15">syntax</tspan><tspan x="1167.8" y="1601.05">(*parser)</tspan><tspan x="1167.8" y="1612.95">parseUnicodeClass</tspan><tspan x="1167.8" y="1624.85">0 of 3096.06kB (8.49%)</tspan></text></g>
<g id="n-filedesc-makeFullName" class="n"><rect x="1313.1" y="1579.4" width="149.7" height="48.8" fill="#ede8e3" stroke="#b28e66"/><text class="s"><tspan x="1387.95" y="1595.1">filedesc</tspan><tspan x="1387.95" y="1607">makeFullName</tspan><tspan x="1387.95" y="1618.9">0 of 3099.83kB (8.50%)</tspan></text></g>
<g id="n-pprof-writeHeapInternal" class="n"><rect x="1919.6" y="1580.1" width="149.6" height="48" fill="#edece9" stroke="#b2a999"/><text class="s"><tspan x="1994.4" y="1595.4">pprof</tspan><tspan x="1994.4" y="1607.3">writeHeapInternal</tspan><tspan x="1994.4" y="1619.2">0 of 1027.43kB (2.82%)</tspan></text></g>
<g id="n-pprof-writeRuntimeProfile" class="n"><rect x="2093.3" y="1580.1" width="143.3" height="48" fill="#edeceb" stroke="#b2ada2"/><text class="s"><tspan x="2164.95" y="1595.4">pprof</tspan><tspan x="2164.95" y="1607.3">writeRuntimeProfile</tspan><tspan x="2164.95" y="1619.2">0 of 650.62kB (1.79%)</tspan></text></g>
<g id="n-v1-PodSpec-Unmarshal" class="n"><rect x="2306.3" y="1574.8" width="150" height="58.5" fill="#ede8e3" stroke="#b28e67"/><text class="s"><tspan x="2381.3" y="1589.4">v1</tspan><tspan x="2381.3" y="1601.3">(*PodSpec)</tspan><tspan x="2381.3" y="1613.2">Unmarshal</tspan><tspan x="2381.3" y="1625.1">0 of 3072.14kB (8.43%)</tspan></text></g>
<g id="n-syntax-appendTable" class="n"><rect x="1074.4" y="1753" width="149.6" height="48.3" fill="#ede8e3" stroke="#b28e66"/><text class="s"><tspan x="1149.2" y="1768.45">syntax</tspan><tspan x="1149.2" y="1780.35">appendTable</tspan><tspan x="1149.2" y="1792.25">0 of 3096.06kB (8.49%)</tspan></text></g>
<g id="n-strs-MakeString" class="n"><rect x="1313.1" y="1747.8" width="149.7" height="58.8" fill="#ede8e3" stroke="#b28e66"/><text class="s"><tspan x="1387.95" y="1762.55">strs</tspan><tspan x="1387.95" y="1774.45">(*Builder)</tspan><tspan x="1387.95" y="1786.35">MakeString</tspan><tspan x="1387.95" y="1798.25">0 of 3099.83kB (8.50%)</tspan></text></g>
<g id="n-pprof-writeHeapProto" class="n"><rect x="1919.6" y="1753.6" width="149.6" height="47.4" fill="#edece9" stroke="#b2a999"/><text class="s"><tspan x="1994.4" y="1768.6">pprof</tspan><tspan x="1994.4" y="1780.5">writeHeapProto</tspan><tspan x="1994.4" y="1792.4">0 of 1027.43kB (2.82%)</tspan></text></g>
<g id="n-pprof-printCountProfile" class="n"><rect x="2093.3" y="1753.6" width="143.3" height="47.4" fill="#edeceb" stroke="#b2ada2"/><text class="s"><tspan x="2164.95" y="1768.6">pprof</tspan><tspan x="2164.95" y="1780.5">printCountProfile</tspan><tspan x="2164.95" y="1792.4">0 of 650.62kB (1.79%)</tspan></text></g>
<g id="n-v1-Container-Unmarshal" class="n"><rect x="2261" y="1721.3" width="240.7" height="112.2" fill="#ede8e3" stroke="#b28e67"/><text class="t17"><tspan x="2381.35" y="1744.4">v1</tspan><tspan x="2381.35" y="1769.4">(*Container)</tspan><tspan x="2381.35" y="1794.4">Unmarshal</tspan><tspan x="2381.35" y="1819.4">3072.14kB (8.43%)</tspan></text></g>
<g id="n-syntax-appendRange" class="n"><rect x="1003.9" y="1933.8" width="240.4" height="86.6" fill="#ede8e3" stroke="#b28e66"/><text class="t17"><tspan x="1124.1" y="1956.1">syntax</tspan><tspan x="1124.1" y="1981.6">appendRange</tspan><tspan x="1124.1" y="2007.1">3096.06kB (8.49%)</tspan></text></g>
<g id="n-strs-grow" class="n"><rect x="1267.9" y="1921.4" width="240" height="111.4" fill="#ede8e3" stroke="#b28e66"/><text class="t17"><tspan x="1387.9" y="1943.5">strs</tspan><tspan x="1387.9" y="1968.9">(*Builder)</tspan><tspan x="1387.9" y="1994.3">grow</tspan><tspan x="1387.9" y="2019.7">3099.83kB (8.50%)</tspan></text></g>
<g id="n-pprof-build" class="n"><rect x="1816.5" y="1948" width="142.4" height="58.6" fill="#edeceb" stroke="#b2aea5"/><text class="s"><tspan x="1887.7" y="1962.65">pprof</tspan><tspan x="1887.7" y="1974.55">(*profileBuilder)</tspan><tspan x="1887.7" y="1986.45">build</tspan><tspan x="1887.7" y="1998.35">0 of 515.38kB (1.41%)</tspan></text></g>
<g id="n-pprof-appendLocsForStack" class="n"><rect x="2090.6" y="1948" width="149.6" height="58.6" fill="#edebe9" stroke="#b2a896"/><text class="s"><tspan x="2165.4" y="1962.65">pprof</tspan><tspan x="2165.4" y="1974.55">(*profileBuilder)</tspan><tspan x="2165.4" y="1986.45">appendLocsForStack</tspan><tspan x="2165.4" y="1998.35">0 of 1162.67kB (3.19%)</tspan></text></g>
<g id="n-pprof-protobuf-strings" class="n"><rect x="1812.5" y="2120.4" width="142.4" height="58.7" fill="#edeceb" stroke="#b2aea5"/><text class="s"><tspan x="1883.7" y="2135.1">pprof</tspan><tspan x="1883.7" y="2147">(*protobuf)</tspan><tspan x="1883.7" y="2158.9">strings</tspan><tspan x="1883.7" y="2170.8">0 of 515.38kB (1.41%)</tspan></text></g>
<g id="n-pprof-emitLocation" class="n"><rect x="2066.5" y="2101" width="197.8" height="97.5" fill="#edebe9" stroke="#b2a896"/><text class="m"><tspan x="2165.4" y="2119">pprof</tspan><tspan x="2165.4" y="2136.5">(*profileBuilder)</tspan><tspan x="2165.4" y="2154">emitLocation</tspan><tspan x="2165.4" y="2171.5">512.05kB (1.40%)</tspan><tspan x="2165.4" y="2189">of 1162.67kB (3.19%)</tspan></text></g>
<g id="n-pprof-protobuf-string" class="n"><rect x="1792.4" y="2286.8" width="167" height="79" fill="#edeceb" stroke="#b2aea5"/><text class="m"><tspan x="1875.9" y="2304.5">pprof</tspan><tspan x="1875.9" y="2321.7">(*protobuf)</tspan><tspan x="1875.9" y="2338.9">string</tspan><tspan x="1875.9" y="2356.1">515.38kB (1.41%)</tspan></text></g>
<g id="n-pprof-flush" class="n"><rect x="1936.3" y="2434.6" width="143.1" height="58.5" fill="#edeceb" stroke="#b2ada2"/><text class="s"><tspan x="2007.85" y="2449.2">pprof</tspan><tspan x="2007.85" y="2461.1">(*profileBuilder)</tspan><tspan x="2007.85" y="2473">flush</tspan><tspan x="2007.85" y="2484.9">0 of 650.62kB (1.79%)</tspan></text></g>
<g id="n-gzip-Write" class="n"><rect x="1936.3" y="2560.9" width="143.1" height="58.5" fill="#edeceb" stroke="#b2ada2"/><text class="s"><tspan x="2007.85" y="2575.5">gzip</tspan><tspan x="2007.85" y="2587.4">(*Writer)</tspan><tspan x="2007.85" y="2599.3">Write</tspan><tspan x="2007.85" y="2611.2">0 of 650.62kB (1.79%)</tspan></text></g>
<g id="n-flate-NewWriter" class="n"><rect x="1936.3" y="2687.7" width="143.1" height="47.8" fill="#edeceb" stroke="#b2ada2"/><text class="s"><tspan x="2007.85" y="2702.9">flate</tspan><tspan x="2007.85" y="2714.8">NewWriter</tspan><tspan x="2007.85" y="2726.7">0 of 650.62kB (1.79%)</tspan></text></g>
<g id="n-flate-compressor-init" class="n"><rect x="1924.3" y="2803.7" width="167" height="79.6" fill="#edeceb" stroke="#b2ada2"/><text class="m"><tspan x="2007.8" y="2821.7">flate</tspan><tspan x="2007.8" y="2838.9">(*compressor)</tspan><tspan x="2007.8" y="2856.1">init</tspan><tspan x="2007.8" y="2873.3">650.62kB (1.79%)</tspan></text></g>

<g id="t-1.78MB" class="cube"><rect x="529" y="697.33" width="66.97" height="41.97"/><polygon points="529,697.33 534.33,692 601.3,692 595.97,697.33"/><polygon points="595.97,697.33 601.3,692 601.3,733.97 595.97,739.3"/><text x="562.5" y="722">1.78MB</text></g>
<g id="t-912kB" class="cube"><rect x="896" y="697.33" width="66.87" height="41.97"/><polygon points="896,697.33 901.33,692 968.2,692 962.87,697.33"/><polygon points="962.87,697.33 968.2,692 968.2,733.97 962.87,739.3"/><text x="929.4" y="722">912kB</text></g>
<g id="t-4kB" class="cube"><rect x="1534.6" y="697.33" width="67.07" height="41.97"/><polygon points="1534.6,697.33 1539.93,692 1607,692 1601.67,697.33"/><polygon points="1601.67,697.33 1607,692 1607,733.97 1601.67,739.3"/><text x="1568.1" y="722">4kB</text></g>
<g id="t-32kB" class="cube"><rect x="2067.6" y="1177.23" width="67.17" height="42.67"/><polygon points="2067.6,1177.23 2072.93,1171.9 2140.1,1171.9 2134.77,1177.23"/><polygon points="2134.77,1177.23 2140.1,1171.9 2140.1,1214.57 2134.77,1219.9"/><text x="2101.2" y="1202.3">32kB</text></g>
<g id="t-1MB" class="cube"><rect x="1642.4" y="1459.33" width="66.97" height="41.67"/><polygon points="1642.4,1459.33 1647.73,1454 1714.7,1454 1709.37,1459.33"/><polygon points="1709.37,1459.33 1714.7,1454 1714.7,1495.67 1709.37,1501"/><text x="1675.9" y="1483.9">1MB</text></g>
<g id="t-128kB" class="cube"><rect x="1782.6" y="1459.33" width="66.97" height="41.67"/><polygon points="1782.6,1459.33 1787.93,1454 1854.9,1454 1849.57,1459.33"/><polygon points="1849.57,1459.33 1854.9,1454 1854.9,1495.67 1849.57,1501"/><text x="1816.1" y="1483.9">128kB</text></g>
<g id="t-48B" class="cube"><rect x="2345" y="1958.93" width="66.97" height="42.57"/><polygon points="2345,1958.93 2350.33,1953.6 2417.3,1953.6 2411.97,1958.93"/><polygon points="2411.97,1958.93 2417.3,1953.6 2417.3,1996.17 2411.97,2001.5"/><text x="2378.5" y="1983.9">48B</text></g>
<g id="t-8kB" class="cube"><rect x="1087.6" y="2131.33" width="67.07" height="42.67"/><polygon points="1087.6,2131.33 1092.93,2126 1160,2126 1154.67,2131.33"/><polygon points="1154.67,2131.33 1160,2126 1160,2168.67 1154.67,2174"/><text x="1121.1" y="2156.4">8kB</text></g>
<g id="t-9.25kB" class="cube"><rect x="1351.7" y="2131.33" width="67.17" height="42.67"/><polygon points="1351.7,2131.33 1357.03,2126 1424.2,2126 1418.87,2131.33"/><polygon points="1418.87,2131.33 1424.2,2126 1424.2,2168.67 1418.87,2174"/><text x="1385.3" y="2156.4">9.25kB</text></g>
<g id="t-96B" class="cube"><rect x="2128.9" y="2308.03" width="67.27" height="42.37"/><polygon points="2128.9,2308.03 2134.23,2302.7 2201.5,2302.7 2196.17,2308.03"/><polygon points="2196.17,2308.03 2201.5,2302.7 2201.5,2345.07 2196.17,2350.4"/><text x="2162.5" y="2332.9">96B</text></g>
<g id="t-6.75kB" class="cube"><rect x="1839.8" y="2445.13" width="66.97" height="42.37"/><polygon points="1839.8,2445.13 1845.13,2439.8 1912.1,2439.8 1906.77,2445.13"/><polygon points="1906.77,2445.13 1912.1,2439.8 1912.1,2482.17 1906.77,2487.5"/><text x="1873.3" y="2470">6.75kB</text></g>
<g id="t-256kB" class="cube"><rect x="1972" y="2957.43" width="66.67" height="41.87"/><polygon points="1972,2957.43 1977.33,2952.1 2044,2952.1 2038.67,2957.43"/><polygon points="2038.67,2957.43 2044,2952.1 2044,2993.97 2038.67,2999.3"/><text x="2005.3" y="2982.1">256kB</text></g>
</g>
</svg>
